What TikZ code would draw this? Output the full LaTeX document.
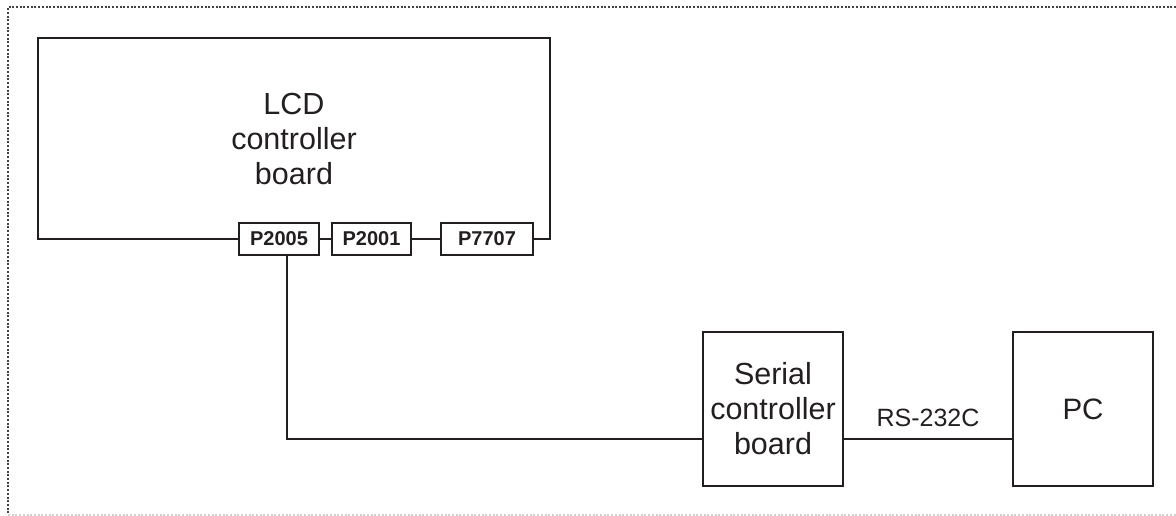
\documentclass[tikz,border=0pt]{standalone}
\usepackage{fontspec}
\setmainfont{Liberation Sans}
\definecolor{ink}{HTML}{231F20}
\tikzset{
  board/.style={draw=ink, line width=1.8pt, align=center, inner sep=0pt,
    font=\fontsize{30.5}{35}\selectfont, text=ink},
  conn/.style={draw=ink, line width=1.6pt, inner sep=0pt, minimum height=32pt,
    font=\fontsize{20}{22}\selectfont\bfseries, text=ink},
  wire/.style={draw=ink, line width=1.8pt},
  frame/.style={line width=1.6pt, dash pattern=on 2pt off 1.7pt}
}
\begin{document}
\begin{tikzpicture}[x=1pt,y=-1pt]
\useasboundingbox (0,0) rectangle (1176,516);
% outer dotted frame
\draw[frame, draw=ink!85] (1176,7) -- (8,7) -- (8,514);
\draw[frame, draw=black!18] (8,515) -- (1176,515);
% LCD board (outline drawn around connectors)
\node[board, draw=none, minimum width=510pt, minimum height=200pt] (lcd) at (294,139) {LCD\\controller\\board};
\node[conn, minimum width=80pt] (p2005) at (279,239) {P2005};
\node[conn, minimum width=79pt] (p2001) at (371.5,239) {P2001};
\node[conn, minimum width=92pt] (p7707) at (487,239) {P7707};
\draw[wire] (p2005.west) -| (lcd.north west) -- (lcd.north east) |- (p7707.east);
\draw[wire] (p2005.east) -- (p2001.west);
\draw[wire] (p2001.east) -- (p7707.west);
% serial board and PC
\node[board, minimum width=140pt, minimum height=154pt] (serial) at (773,409) {Serial\\controller\\board};
\node[board, minimum width=140pt, minimum height=154pt, font=\fontsize{29.5}{35}\selectfont] (pc) at (1083,409) {PC};
\draw[wire] ([xshift=8pt]p2005.south) |- ([yshift=-30pt]serial.west);
\draw[wire] ([yshift=-30pt]serial.east) -- node[midway, above=11pt, inner sep=0pt, font=\fontsize{25}{30}\selectfont, text=ink] (rs) {RS-232C} ([yshift=-30pt]pc.west);
\end{tikzpicture}
\end{document}
